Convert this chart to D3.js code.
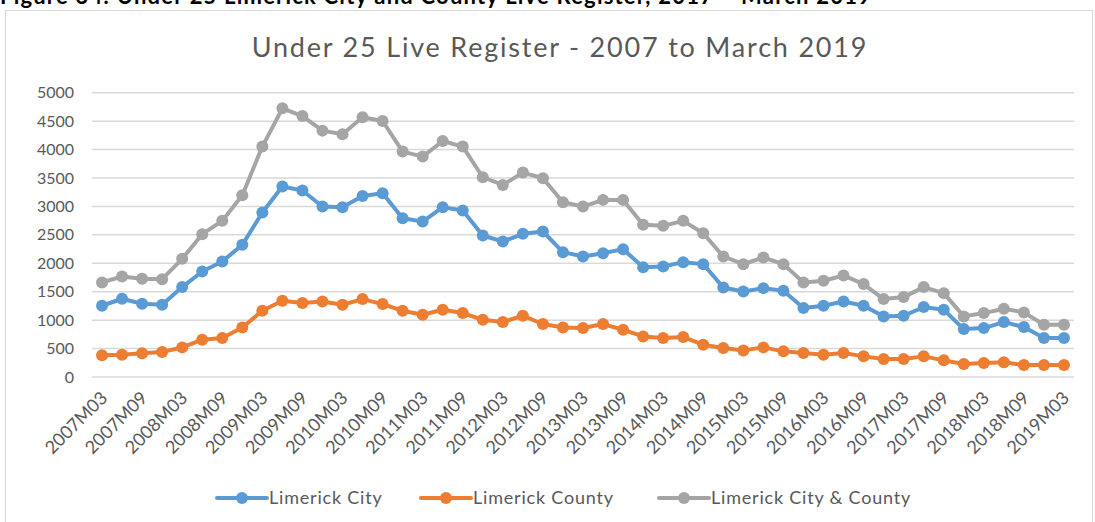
<!DOCTYPE html>
<html>
<head>
<meta charset="utf-8">
<script src="https://cdn.jsdelivr.net/npm/d3@7/dist/d3.min.js"></script>
<style>
  html, body { margin: 0; padding: 0; background: #fff; }
  svg { display: block; }
  text { font-family: Lato, "Open Sans", sans-serif; }
</style>
</head>
<body>
<svg id="chart" width="1095" height="522"></svg>
<script>
// Quarterly periods
const periods = [
  "2007M03","2007M06","2007M09","2007M12",
  "2008M03","2008M06","2008M09","2008M12",
  "2009M03","2009M06","2009M09","2009M12",
  "2010M03","2010M06","2010M09","2010M12",
  "2011M03","2011M06","2011M09","2011M12",
  "2012M03","2012M06","2012M09","2012M12",
  "2013M03","2013M06","2013M09","2013M12",
  "2014M03","2014M06","2014M09","2014M12",
  "2015M03","2015M06","2015M09","2015M12",
  "2016M03","2016M06","2016M09","2016M12",
  "2017M03","2017M06","2017M09","2017M12",
  "2018M03","2018M06","2018M09","2018M12",
  "2019M03"
];

const limerickCity = [
  1253, 1376, 1288, 1270, 1581, 1856, 2032, 2324, 2892, 3349,
  3279, 2998, 2986, 3185, 3232, 2793, 2734, 2986, 2928, 2488,
  2383, 2518, 2559, 2196, 2120, 2178, 2248, 1932, 1944, 2020,
  1985, 1575, 1505, 1563, 1516, 1212, 1253, 1329, 1253, 1066,
  1077, 1230, 1183,  843,  861,  966,  878,  685,  685
];

const limerickCounty = [
   381,  392,  416,  439,  521,  656,  685,  872, 1165, 1341,
  1300, 1329, 1271, 1370, 1282, 1165, 1095, 1183, 1124, 1007,
   966, 1077,  931,  872,  861,  931,  831,  714,  685,  703,
   568,  509,  468,  521,  451,  422,  392,  422,  363,  316,
   316,  363,  293,  228,  246,  258,  211,  211,  211
];

const limerickCityCounty = [
  1663, 1768, 1727, 1721, 2079, 2512, 2746, 3197, 4052, 4725,
  4590, 4333, 4268, 4567, 4502, 3964, 3876, 4151, 4052, 3513,
  3378, 3595, 3495, 3074, 2998, 3115, 3115, 2676, 2658, 2746,
  2529, 2120, 1985, 2102, 1985, 1663, 1692, 1786, 1634, 1370,
  1405, 1581, 1475, 1066, 1124, 1200, 1136,  919,  919
];

const yTicks = [0, 500, 1000, 1500, 2000, 2500, 3000, 3500, 4000, 4500, 5000];
// Every second period is labelled on the axis
const xTickLabels = periods.filter((d, i) => i % 2 === 0);

const seriesNames = ["Limerick City", "Limerick County", "Limerick City & County"];
const seriesColors = ["#5B9BD5", "#ED7D31", "#A5A5A5"];
const seriesValues = [limerickCity, limerickCounty, limerickCityCounty];

const titleText = "Under 25 Live Register - 2007 to March 2019";
const captionText = "Figure 34: Under 25 Limerick City and County Live Register, 2017 \u2013 March 2019";

const svg = d3.select("#chart");
const plot = { left: 92, right: 1074, top: 92.7, bottom: 377 };

// Figure caption above the chart frame (runs off the top edge of the page)
svg.append("text")
  .attr("x", 0).attr("y", 4)
  .attr("font-family", "Lato, sans-serif")
  .attr("font-weight", "bold")
  .attr("font-size", 22)
  .attr("letter-spacing", 1.2)
  .attr("fill", "#000")
  .text(captionText);

// Chart area frame
svg.append("rect")
  .attr("x", 5.5).attr("y", 10.5)
  .attr("width", 1087).attr("height", 530)
  .attr("fill", "#fff")
  .attr("stroke", "#d9d9d9").attr("stroke-width", 1);

// Title
svg.append("text")
  .attr("x", 560).attr("y", 57)
  .attr("text-anchor", "middle")
  .attr("font-size", 27)
  .attr("letter-spacing", 1.8)
  .attr("fill", "#595959")
  .text(titleText);

const x = d3.scalePoint()
  .domain(periods)
  .range([plot.left, plot.right])
  .padding(0.5);

const y = d3.scaleLinear()
  .domain([0, 5000])
  .range([plot.bottom, plot.top]);

// Horizontal gridlines
svg.append("g")
  .selectAll("line")
  .data(yTicks)
  .join("line")
  .attr("x1", plot.left).attr("x2", plot.right)
  .attr("y1", d => y(d)).attr("y2", d => y(d))
  .attr("stroke", "#d9d9d9").attr("stroke-width", 1.5);

// Y axis labels
const yAxis = d3.axisLeft(y).tickValues(yTicks).tickSize(0).tickPadding(0)
  .tickFormat(d3.format("d"));
const gy = svg.append("g")
  .attr("transform", `translate(${plot.left - 18},0)`)
  .call(yAxis);
gy.select(".domain").remove();
gy.selectAll("text")
  .attr("font-family", "Lato, sans-serif")
  .attr("font-size", 16)
  .attr("fill", "#595959");

// X axis labels, rotated 45 degrees
const xAxis = d3.axisBottom(x).tickValues(xTickLabels).tickSize(0).tickPadding(0);
const gx = svg.append("g")
  .attr("transform", `translate(0,${plot.bottom})`)
  .call(xAxis);
gx.select(".domain").remove();
gx.selectAll("text")
  .attr("font-family", "Lato, sans-serif")
  .attr("font-size", 18)
  .attr("fill", "#595959")
  .attr("text-anchor", "end")
  .attr("dy", null)
  .attr("y", 0)
  .attr("transform", "translate(6,22) rotate(-45)");

// Series lines and markers
const line = d3.line()
  .x((d, i) => x(periods[i]))
  .y(d => y(d));

seriesValues.forEach((vals, k) => {
  const g = svg.append("g");
  g.append("path")
    .datum(vals)
    .attr("d", line)
    .attr("fill", "none")
    .attr("stroke", seriesColors[k])
    .attr("stroke-width", 4)
    .attr("stroke-linejoin", "round");
  g.selectAll("circle")
    .data(vals)
    .join("circle")
    .attr("cx", (d, i) => x(periods[i]))
    .attr("cy", d => y(d))
    .attr("r", 6)
    .attr("fill", seriesColors[k]);
});

// Legend
const legendX = [217, 421, 659];
const legendY = 498;
const legend = svg.append("g");
seriesNames.forEach((name, k) => {
  const lg = legend.append("g").attr("transform", `translate(${legendX[k]},${legendY})`);
  lg.append("line")
    .attr("x1", 0).attr("x2", 50)
    .attr("y1", 0).attr("y2", 0)
    .attr("stroke", seriesColors[k]).attr("stroke-width", 4)
    .attr("stroke-linecap", "round");
  lg.append("circle")
    .attr("cx", 25).attr("cy", 0).attr("r", 6)
    .attr("fill", seriesColors[k]);
  lg.append("text")
    .attr("x", 52).attr("y", 0)
    .attr("dy", "0.35em")
    .attr("font-size", 18)
    .attr("letter-spacing", 0.8)
    .attr("fill", "#595959")
    .text(name);
});
</script>
</body>
</html>
